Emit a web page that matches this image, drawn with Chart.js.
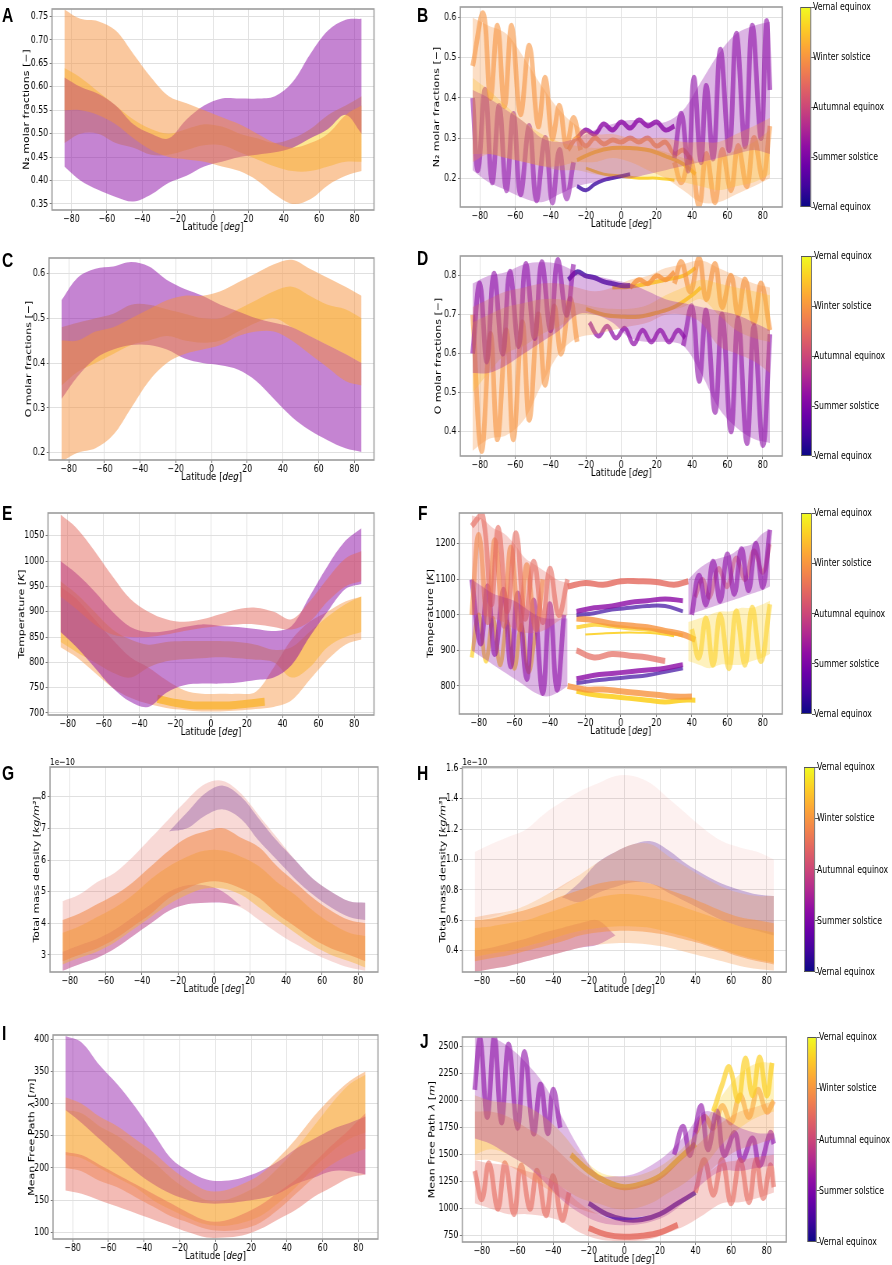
<!DOCTYPE html>
<html><head><meta charset="utf-8">
<script src="https://cdn.jsdelivr.net/npm/chart.js@4.4.1/dist/chart.umd.min.js"></script>
<style>
html,body{margin:0;padding:0;background:#fff;}
body{width:892px;height:1265px;overflow:hidden;position:relative}
#wrap{position:absolute;left:0;top:0;width:1144px;height:1265px;transform:scaleX(0.78);transform-origin:0 0}
.lt{position:absolute;font:bold 20px "Liberation Sans",Arial,sans-serif;line-height:20px;color:#000}
.cb{position:absolute;box-sizing:border-box;border:1px solid #555;background:linear-gradient(to top,#0d0887 0%,#41049d 10%,#6a00a8 20%,#8f0da4 30%,#b12a90 40%,#cc4778 50%,#e16462 60%,#f2844b 70%,#fca636 80%,#fcce25 90%,#f0f921 100%)}
.cbt{position:absolute;height:1px;width:4px;background:#555}
.cbl{position:absolute;font:10px "DejaVu Sans",sans-serif;line-height:12px;white-space:nowrap;color:#000;transform:translateY(-50%)}
</style></head><body><div id="wrap"></div>
<script>
// ---------------- DATA ----------------
const LAT = [-84,-75,-65,-55,-45,-35,-25,-15,-5,5,15,25,35,45,55,65,75,84];
const LAT_TICKS = [-80,-60,-40,-20,0,20,40,60,80];
const SEASONS = ['Vernal equinox','Winter solstice','Autumnal equinox','Summer solstice','Vernal equinox'];

// A: N2 molar fractions (thermosphere, smooth)
const A_YT = [0.35,0.40,0.45,0.50,0.55,0.60,0.65,0.70,0.75];
const A_org_lo = [0.55,0.55,0.54,0.52,0.49,0.465,0.45,0.445,0.44,0.43,0.42,0.40,0.37,0.35,0.36,0.39,0.41,0.42];
const A_org_hi = [0.765,0.745,0.74,0.72,0.67,0.62,0.58,0.565,0.55,0.535,0.52,0.50,0.48,0.47,0.48,0.50,0.54,0.56];
const A_pur_lo = [0.43,0.40,0.38,0.365,0.355,0.37,0.395,0.41,0.43,0.44,0.45,0.455,0.46,0.47,0.49,0.51,0.54,0.50];
const A_pur_hi = [0.62,0.60,0.585,0.56,0.52,0.50,0.49,0.53,0.56,0.575,0.575,0.575,0.58,0.61,0.67,0.72,0.743,0.745];
const A_yel_lo = [0.48,0.50,0.50,0.48,0.47,0.455,0.455,0.465,0.475,0.475,0.46,0.445,0.43,0.42,0.42,0.43,0.44,0.44];
const A_yel_hi = [0.64,0.62,0.59,0.56,0.53,0.51,0.50,0.51,0.52,0.515,0.50,0.49,0.48,0.49,0.51,0.54,0.56,0.58];

// B: N2 molar fractions (oscillating)
const B_YT = [0.2,0.3,0.4,0.5,0.6];
const B_org_lo = [0.24,0.26,0.25,0.24,0.23,0.23,0.24,0.24,0.25,0.24,0.22,0.20,0.17,0.14,0.14,0.16,0.18,0.20];
const B_org_hi = [0.60,0.58,0.56,0.50,0.43,0.37,0.33,0.31,0.31,0.30,0.30,0.30,0.29,0.29,0.29,0.31,0.33,0.35];
const B_pur_lo = [0.22,0.19,0.17,0.15,0.14,0.16,0.18,0.19,0.20,0.20,0.21,0.22,0.23,0.24,0.25,0.26,0.27,0.26];
const B_pur_hi = [0.42,0.40,0.37,0.34,0.30,0.29,0.30,0.32,0.335,0.345,0.34,0.34,0.37,0.44,0.51,0.56,0.58,0.59];
const B_yel_lo = [0.26,0.26,0.25,0.24,0.23,0.22,0.22,0.21,0.205,0.20,0.20,0.20,0.19,0.18,0.17,0.18,0.19,0.21];
const B_yel_hi = [0.45,0.42,0.38,0.34,0.31,0.29,0.28,0.275,0.28,0.28,0.275,0.265,0.25,0.24,0.25,0.27,0.29,0.32];
const B_w1_x = [-84,-78,-74,-70,-66,-62,-57,-52,-47,-43,-39,-35,-31,-27,-23];
const B_w1_y = [0.48,0.61,0.40,0.58,0.38,0.58,0.36,0.53,0.33,0.45,0.30,0.38,0.28,0.35,0.27];
const B_w2_x = [-84,-81,-77,-73,-69,-65,-61,-57,-52,-48,-43,-39,-35,-31,-27];
const B_w2_y = [0.40,0.22,0.42,0.19,0.38,0.17,0.36,0.16,0.33,0.145,0.30,0.14,0.27,0.15,0.24];
const B_w3_x = [30,34,38,41,45,48,52,56,61,65,70,74,79,82,84];
const B_w3_y = [0.25,0.36,0.22,0.45,0.24,0.43,0.25,0.52,0.27,0.56,0.28,0.58,0.30,0.59,0.42];
const B_w4_x = [30,34,39,44,48,53,57,62,66,71,75,80,84];
const B_w4_y = [0.24,0.19,0.25,0.13,0.26,0.14,0.27,0.17,0.28,0.18,0.30,0.20,0.33];
const B_w5_x = [-25,-20,-15,-10,-5,0,5,10,15,20,25,30];
const B_w5_y = [0.30,0.32,0.31,0.335,0.32,0.34,0.325,0.345,0.33,0.34,0.32,0.33];
const B_w6_x = [-25,-15,-5,5,15,25,35,42];
const B_w6_y = [0.245,0.265,0.275,0.275,0.27,0.255,0.235,0.21];
const B_w7_x = [-25,-20,-15,-10,-5,0,5];
const B_w7_y = [0.18,0.17,0.185,0.195,0.2,0.205,0.21];
const B_w8_x = [-20,-10,0,10,20,30];
const B_w8_y = [0.225,0.21,0.205,0.2,0.2,0.195];
const B_w9_x = [-30,-25,-20,-15,-10,-5,0,5,10,15,20,25,30,35,40];
const B_w9_y = [0.27,0.30,0.28,0.30,0.285,0.295,0.29,0.30,0.29,0.30,0.28,0.29,0.26,0.27,0.24];

// C: O molar fractions (smooth)
const C_YT = [0.2,0.3,0.4,0.5,0.6];
const C_org_lo = [0.18,0.20,0.21,0.24,0.30,0.36,0.40,0.42,0.43,0.44,0.46,0.47,0.47,0.45,0.42,0.39,0.36,0.35];
const C_org_hi = [0.45,0.45,0.47,0.48,0.50,0.52,0.54,0.55,0.55,0.56,0.58,0.60,0.62,0.63,0.61,0.59,0.57,0.55];
const C_pur_lo = [0.32,0.37,0.41,0.43,0.44,0.44,0.43,0.41,0.40,0.395,0.385,0.36,0.32,0.28,0.25,0.228,0.21,0.202];
const C_pur_hi = [0.54,0.59,0.61,0.615,0.625,0.615,0.585,0.565,0.55,0.53,0.515,0.50,0.49,0.48,0.46,0.44,0.42,0.40];
const C_yel_lo = [0.35,0.38,0.40,0.42,0.44,0.45,0.46,0.45,0.445,0.45,0.47,0.49,0.50,0.48,0.46,0.44,0.42,0.40];
const C_yel_hi = [0.48,0.49,0.50,0.51,0.53,0.53,0.52,0.51,0.50,0.50,0.52,0.54,0.56,0.57,0.55,0.53,0.52,0.50];

// D: O molar fractions (oscillating)
const D_YT = [0.4,0.5,0.6,0.7,0.8];
const D_pur_lo = [0.55,0.55,0.57,0.60,0.63,0.66,0.70,0.70,0.68,0.64,0.63,0.63,0.62,0.55,0.46,0.41,0.38,0.37];
const D_pur_hi = [0.78,0.80,0.81,0.83,0.835,0.83,0.81,0.80,0.79,0.78,0.76,0.74,0.73,0.72,0.71,0.70,0.68,0.66];
const D_org_lo = [0.35,0.38,0.39,0.43,0.52,0.60,0.64,0.65,0.66,0.67,0.68,0.70,0.70,0.68,0.62,0.60,0.58,0.55];
const D_org_hi = [0.72,0.74,0.76,0.77,0.78,0.78,0.77,0.76,0.77,0.79,0.80,0.82,0.83,0.84,0.82,0.80,0.78,0.77];
const D_yel_lo = [0.50,0.55,0.60,0.62,0.65,0.67,0.70,0.70,0.695,0.695,0.70,0.71,0.72,0.74,0.70,0.66,0.64,0.63];
const D_yel_hi = [0.68,0.70,0.72,0.73,0.74,0.74,0.73,0.72,0.715,0.715,0.725,0.75,0.77,0.79,0.78,0.77,0.76,0.75];
const D_w1_x = [-84,-80,-76,-72,-67,-63,-58,-54,-49,-45,-40,-36,-31,-27];
const D_w1_y = [0.60,0.78,0.58,0.805,0.60,0.81,0.62,0.83,0.64,0.835,0.66,0.84,0.70,0.83];
const D_w2_x = [-84,-79,-74,-70,-65,-61,-56,-52,-47,-43,-38,-34,-29,-25];
const D_w2_y = [0.70,0.35,0.65,0.38,0.66,0.38,0.68,0.43,0.70,0.52,0.72,0.60,0.74,0.63];
const D_w3_x = [35,40,44,48,53,57,62,66,71,75,80,84];
const D_w3_y = [0.62,0.72,0.53,0.71,0.45,0.70,0.40,0.69,0.37,0.67,0.365,0.65];
const D_w4_x = [30,34,39,44,48,53,57,62,66,70,75,79,84];
const D_w4_y = [0.78,0.835,0.76,0.845,0.74,0.83,0.72,0.80,0.70,0.79,0.68,0.78,0.66];
const D_w5_x = [-30,-25,-20,-15,-10,-5,0,5];
const D_w5_y = [0.79,0.81,0.80,0.795,0.785,0.78,0.775,0.775];
const D_w6_x = [-5,5,15,25,35,42];
const D_w6_y = [0.77,0.772,0.78,0.79,0.80,0.82];
const D_w7_x = [-20,-10,0,10,20,30,40,45];
const D_w7_y = [0.715,0.70,0.695,0.695,0.705,0.72,0.75,0.77];
const D_w8_x = [-18,-13,-8,-3,2,7,12,17,22,27,32,36];
const D_w8_y = [0.68,0.645,0.67,0.64,0.665,0.625,0.66,0.63,0.66,0.63,0.66,0.64];
const D_w9_x = [5,10,15,20,25,30];
const D_w9_y = [0.77,0.79,0.78,0.80,0.79,0.81];

// E: Temperature (smooth)
const E_YT = [700,750,800,850,900,950,1000,1050];
const E_red_lo = [930,905,875,855,850,850,855,862,868,872,875,875,870,865,880,920,950,960];
const E_red_hi = [1092,1065,1020,970,925,900,885,880,885,895,905,908,900,885,920,965,1005,1020];
const E_pur_lo = [860,830,790,750,722,712,740,755,758,758,760,765,770,795,850,900,945,955];
const E_pur_hi = [1000,975,940,900,870,860,862,870,875,872,870,866,862,872,930,990,1040,1065];
const E_org_lo = [830,810,780,750,730,718,710,706,703,703,705,708,712,725,765,805,835,845];
const E_org_hi = [950,925,885,845,810,790,765,745,738,738,738,742,790,845,880,900,920,930];
const E_yel_lo = [840,820,800,780,770,790,802,806,808,810,808,805,800,770,790,830,850,860];
const E_yel_hi = [960,935,900,865,845,835,840,842,842,842,840,835,825,830,860,890,915,930];
const E_w1_x = [-30,-20,-10,0,10,20,30];
const E_w1_y = [728,720,715,715,715,718,722];

// F: Temperature (oscillating)
const F_YT = [800,900,1000,1100,1200];
const F_L_x = [-84,-78,-72,-66,-60,-54,-48,-42,-36,-30];
const F_Lred_lo = [1000,1000,990,980,960,950,950,960,980,1000];
const F_Lred_hi = [1280,1270,1245,1230,1200,1160,1140,1120,1100,1090];
const F_Lpur_lo = [900,880,860,840,820,800,780,770,780,800];
const F_Lpur_hi = [1100,1080,1060,1050,1040,1020,1000,990,990,990];
const F_R_x = [38,44,50,56,62,68,74,80,84];
const F_Rpur_lo = [1000,1010,1020,1030,1040,1050,1060,1070,1080];
const F_Rpur_hi = [1100,1130,1150,1160,1170,1190,1200,1230,1240];
const F_Ryel_lo = [870,860,850,860,860,860,870,880,890];
const F_Ryel_hi = [980,990,1000,1010,1010,1020,1020,1030,1040];
const F_w1_x = [-84,-78,-73,-69,-64,-59,-54,-49,-44,-40,-35,-30];
const F_w1_y = [1250,1285,1030,1245,1010,1230,990,1150,980,1130,1000,1100];
const F_w2_x = [-84,-80,-75,-71,-66,-62,-57,-53,-48,-44];
const F_w2_y = [1000,1225,980,1210,970,1190,960,1140,960,1100];
const F_w3_x = [-84,-79,-75,-71,-66,-62,-58,-53,-49,-44,-40,-36,-32];
const F_w3_y = [1100,920,1080,890,1070,855,1060,820,1040,780,1030,790,1000];
const F_w4_x = [-84,-80,-76,-72,-68,-64,-60,-56,-52,-48];
const F_w4_y = [880,1000,870,990,860,980,850,970,840,950];
const F_w5_x = [40,44,48,52,56,60,64,68,72,76,80,84];
const F_w5_y = [1000,1110,1030,1150,1040,1170,1060,1185,1070,1200,1080,1240];
const F_w6_x = [40,44,48,52,56,61,65,70,74,79,84];
const F_w6_y = [960,880,990,860,1000,850,1010,860,1020,870,1030];
const F_w7_x = [42,46,50,55,60,65,70,75,80,84];
const F_w7_y = [1050,1100,1050,1130,1080,1160,1100,1180,1120,1200];
const F_c1_x = [-30,-20,-10,0,10,20,30,38];
const F_c1_y = [1080,1090,1085,1095,1095,1093,1085,1095];
const F_c2_x = [-25,-15,-5,5,15,25,35];
const F_c2_y = [1010,1020,1025,1035,1040,1045,1040];
const F_c3_y = [1000,1005,1015,1020,1025,1025,1010];
const F_c4_x = [-25,-15,-5,5,15,25,35,42];
const F_c4_y = [990,985,975,970,965,955,945,930];
const F_c5_x = [-20,-10,0,10,20,30];
const F_c5_y = [945,948,950,950,948,940];
const F_c6_y = [965,972,968,962,958,952,942];
const F_c7_x = [-25,-15,-5,5,15,25];
const F_c7_y = [900,880,890,885,880,870];
const F_c8_y = [820,830,835,840,845,850,860];
const F_c9_y = [808,815,820,825,830,840,850];
const F_c10_x = [-30,-20,-10,0,10,20,30,40];
const F_c10_y = [800,790,790,785,780,775,770,770];
const F_c11_y = [785,775,770,765,760,755,760,760];

// G: Total mass density, units of 1e-10 kg/m^3 (smooth)
const G_YT = [3,4,5,6,7,8];
const G_all_lo = [2.5,2.7,2.9,3.2,3.6,4.0,4.4,4.6,4.65,4.65,4.5,4.1,3.7,3.35,3.05,2.8,2.6,2.5];
const G_all_hi = [4.7,4.9,5.3,5.6,6.1,6.7,7.3,7.9,8.4,8.5,8.1,7.4,6.7,6.0,5.4,5.0,4.7,4.65];
const G_org_lo = [2.8,3.0,3.2,3.5,3.9,4.3,4.8,5.1,5.3,5.3,5.1,4.8,4.3,3.9,3.5,3.2,3.0,2.8];
const G_org_hi = [4.1,4.3,4.6,4.9,5.3,5.8,6.3,6.7,6.9,7.0,6.7,6.4,5.8,5.3,4.8,4.4,4.1,4.0];
const G_yel_lo = [2.7,2.9,3.1,3.4,3.8,4.2,4.6,4.9,5.1,5.1,4.9,4.5,4.1,3.7,3.3,3.0,2.8,2.6];
const G_yel_hi = [3.7,3.9,4.2,4.5,4.9,5.4,5.8,6.1,6.3,6.3,6.1,5.8,5.3,4.9,4.4,4.0,3.7,3.6];
const G_blu_x = [-25,-15,-5,5,15,25,35,45,55,65,75,84];
const G_blu_lo = [6.9,7.0,7.4,7.6,7.3,6.6,6.0,5.4,4.9,4.5,4.2,4.1];
const G_blu_hi = [6.9,7.5,8.1,8.35,8.0,7.3,6.6,6.0,5.4,5.0,4.7,4.65];
const G_pur_x = [-84,-75,-65,-55,-45,-35,-25,-15,-5,5,15];
const G_pur_lo = [2.5,2.7,2.9,3.2,3.6,4.0,4.4,4.6,4.65,4.65,4.55];
const G_pur_hi = [3.1,3.3,3.5,3.8,4.2,4.6,5.0,5.2,5.2,5.0,4.55];

// H: Total mass density, units of 1e-10 kg/m^3 (scattered)
const H_YT = [0.4,0.6,0.8,1.0,1.2,1.4,1.6];
const H_red_lo = [0.6,0.62,0.66,0.7,0.76,0.82,0.9,0.98,1.05,1.1,1.1,1.02,0.95,0.88,0.82,0.78,0.76,0.76];
const H_red_hi = [1.05,1.1,1.15,1.2,1.3,1.38,1.45,1.5,1.55,1.55,1.5,1.4,1.3,1.2,1.12,1.08,1.05,1.0];
const H_all_lo = [0.26,0.28,0.3,0.33,0.36,0.39,0.42,0.44,0.45,0.45,0.44,0.42,0.39,0.36,0.33,0.3,0.28,0.27];
const H_all_hi = [0.62,0.64,0.66,0.7,0.76,0.83,0.9,0.98,1.05,1.1,1.1,1.02,0.95,0.88,0.82,0.78,0.76,0.76];
const H_org_lo = [0.33,0.35,0.37,0.4,0.43,0.46,0.5,0.52,0.53,0.53,0.52,0.5,0.47,0.44,0.4,0.36,0.33,0.31];
const H_org_hi = [0.6,0.61,0.64,0.67,0.71,0.76,0.8,0.84,0.86,0.86,0.84,0.8,0.76,0.71,0.66,0.62,0.6,0.58];
const H_yel_lo = [0.36,0.38,0.4,0.43,0.46,0.5,0.53,0.55,0.56,0.56,0.55,0.52,0.49,0.45,0.41,0.37,0.34,0.32];
const H_yel_hi = [0.55,0.56,0.58,0.6,0.64,0.68,0.72,0.75,0.77,0.77,0.75,0.72,0.68,0.64,0.6,0.56,0.54,0.52];
const H_blu_x = [-35,-25,-15,-5,5,15,25,35,45,55,65,75,84];
const H_blu_lo = [0.75,0.72,0.78,0.82,0.85,0.84,0.78,0.72,0.66,0.6,0.56,0.53,0.5];
const H_blu_hi = [0.75,0.85,0.98,1.05,1.1,1.12,1.06,0.97,0.9,0.84,0.8,0.77,0.76];
const H_pur_x = [-84,-75,-65,-55,-45,-35,-25,-15,-5];
const H_pur_lo = [0.26,0.28,0.3,0.33,0.36,0.39,0.42,0.44,0.5];
const H_pur_hi = [0.4,0.42,0.45,0.48,0.52,0.55,0.58,0.6,0.5];

// I: Mean free path (smooth)
const I_YT = [100,150,200,250,300,350,400];
const I_red_lo = [165,160,150,140,130,120,110,100,92,92,95,105,120,135,155,170,185,190];
const I_red_hi = [225,220,205,190,175,160,145,130,118,118,128,142,162,182,208,235,260,285];
const I_org_lo = [200,195,180,170,155,140,125,115,105,102,105,115,135,160,185,205,220,230];
const I_org_hi = [310,300,280,265,245,225,200,180,165,165,175,190,215,245,280,310,335,350];
const I_pur_lo = [290,270,245,220,195,175,160,150,145,145,148,152,160,175,185,195,195,190];
const I_pur_hi = [405,395,360,330,295,255,215,195,182,180,185,195,210,230,245,260,270,280];
const I_yel_lo = [220,215,200,185,170,150,135,122,112,110,115,125,145,170,200,225,245,255];
const I_yel_hi = [290,285,265,250,230,210,185,165,150,150,160,175,200,230,265,300,330,345];

// J: Mean free path (oscillating)
const J_YT = [750,1000,1250,1500,1750,2000,2250,2500];
const J_pink_lo = [1050,1000,950,950,930,880,780,720,700,700,720,780,850,950,1050,1060,1100,1150];
const J_pink_hi = [1450,1420,1400,1350,1300,1200,1050,950,900,900,950,1050,1150,1300,1420,1450,1480,1500];
const J_pur_lo = [1650,1600,1500,1400,1250,1080,960,880,850,850,880,950,1080,1250,1350,1350,1380,1400];
const J_pur_hi = [2590,2590,2500,2350,2150,1850,1550,1320,1300,1320,1400,1520,1700,1900,1850,1750,1700,1700];
const J_org_lo = [1450,1450,1400,1300,1200,1100,1000,950,920,920,950,1050,1150,1300,1450,1550,1600,1650];
const J_org_hi = [1900,1900,1850,1750,1650,1500,1350,1250,1200,1200,1250,1350,1500,1650,1800,1900,1950,2000];
const J_yel_lo = [1500,1550,1500,1400,1300,1200,1100,1050,1000,1000,1050,1150,1250,1400,1600,1750,1850,1900];
const J_yel_hi = [2050,2000,1980,1950,1850,1700,1500,1350,1300,1300,1350,1450,1600,1800,2050,2250,2350,2350];
const J_w1_x = [-84,-81,-77,-73,-69,-65,-60,-56,-51,-47,-43,-40,-36];
const J_w1_y = [2100,2580,1850,2590,1800,2520,1750,2450,1700,2150,1700,2100,1750];
const J_w2_x = [-84,-80,-76,-71,-67,-62,-58,-53,-49,-44,-40,-35,-31];
const J_w2_y = [1350,1090,1420,1000,1420,950,1400,1000,1350,940,1300,900,1150];
const J_w3_x = [50,55,59,64,68,72,76,80,83];
const J_w3_y = [1900,2150,2310,2000,2390,2050,2400,2050,2350];
const J_w4_x = [40,45,50,55,60,65,70,74,78,82,84];
const J_w4_y = [1150,1450,1130,1450,1050,1450,1060,1450,1100,1400,1200];
const J_w5_x = [28,33,37,43,47,52,56,62,66,72,76,82,84];
const J_w5_y = [1500,1760,1500,1950,1550,1900,1500,1700,1450,1650,1400,1700,1600];
const J_w6_x = [-30,-20,-10,0,10,20,30,40];
const J_w6_y = [1500,1350,1250,1200,1230,1300,1450,1600];
const J_w7_x = [-20,-10,0,10,20,30,40];
const J_w7_y = [1050,950,900,900,950,1050,1150];
const J_w8_x = [-20,-10,0,10,20,30];
const J_w8_y = [820,760,740,750,780,850];
const J_w9_x = [40,45,50,55,60,65,70,75,80,84];
const J_w9_y = [1700,1850,1750,1950,1800,2050,1850,2100,1900,2000];

// ---------------- STYLE / LAYOUT ----------------
const S = 0.78;
const PUR=[139,10,165], BLU=[60,10,160], RED=[228,104,92], ORG=[246,146,62], YEL=[252,208,38];
function rgba(c,a){return `rgba(${c[0]},${c[1]},${c[2]},${a})`;}
function band(xs,lo,hi,col,a){
  return [
    {data:xs.map((x,i)=>({x,y:lo[i]})),borderColor:'rgba(0,0,0,0)',borderWidth:1,pointRadius:0,fill:false,tension:0.35},
    {data:xs.map((x,i)=>({x,y:hi[i]})),borderColor:'rgba(0,0,0,0)',borderWidth:1,pointRadius:0,fill:'-1',backgroundColor:rgba(col,a),tension:0.35}
  ];
}
function wave(xs,ys,col,a,w){
  return [{data:xs.map((x,i)=>({x,y:ys[i]})),borderColor:rgba(col,a),borderWidth:w,pointRadius:0,fill:false,tension:0.4}];
}
const T_N2=[['N₂ molar fractions [−]',0]];
const T_O=[['O molar fractions [−]',0]];
const T_T=[['Temperature [',0],['K',1],[']',0]];
const T_RHO=[['Total mass density [',0],['kg/m³',1],[']',0]];
const T_MFP=[['Mean Free Path ',0],['λ',1],[' [',0],['m',1],[']',0]];
const T_LAT=[['Latitude [',0],['deg',1],[']',0]];

const PANELS = [
 {id:'A',rect:[52,9,374,210],cl:0,ytx:27,y:[0.337,0.766],yt:A_YT,dec:2,title:T_N2,letter:[2,8],
  ds:[band(LAT,A_org_lo,A_org_hi,ORG,.5),band(LAT,A_pur_lo,A_pur_hi,PUR,.5),band(LAT,A_yel_lo,A_yel_hi,YEL,.5)]},
 {id:'B',rect:[460,7,782,207],cl:410,ytx:437,y:[0.128,0.627],yt:B_YT,dec:1,title:T_N2,letter:[417,8],cb:[800,811],
  ds:[band(LAT,B_org_lo,B_org_hi,ORG,.3),band(LAT,B_pur_lo,B_pur_hi,PUR,.3),band(LAT,B_yel_lo,B_yel_hi,YEL,.3),
      wave(B_w1_x,B_w1_y,ORG,.6,6),wave(B_w2_x,B_w2_y,PUR,.55,6),wave(B_w3_x,B_w3_y,PUR,.6,6),wave(B_w4_x,B_w4_y,ORG,.6,6),
      wave(B_w9_x,B_w9_y,ORG,.7,5),wave(B_w5_x,B_w5_y,PUR,.8,5),wave(B_w6_x,B_w6_y,YEL,.9,4),wave(B_w7_x,B_w7_y,BLU,.8,4),wave(B_w8_x,B_w8_y,YEL,.9,3)]},
 {id:'C',rect:[49,258,374,460],cl:0,ytx:29,y:[0.184,0.634],yt:C_YT,dec:1,title:T_O,letter:[2,253],
  ds:[band(LAT,C_org_lo,C_org_hi,ORG,.5),band(LAT,C_pur_lo,C_pur_hi,PUR,.5),band(LAT,C_yel_lo,C_yel_hi,YEL,.5)]},
 {id:'D',rect:[460,256,782,456],cl:410,ytx:438,y:[0.3365,0.851],yt:D_YT,dec:1,title:T_O,letter:[417,251],cb:[801,812],
  ds:[band(LAT,D_pur_lo,D_pur_hi,PUR,.3),band(LAT,D_org_lo,D_org_hi,ORG,.3),band(LAT,D_yel_lo,D_yel_hi,YEL,.3),
      wave(D_w1_x,D_w1_y,PUR,.6,6),wave(D_w2_x,D_w2_y,ORG,.6,6),wave(D_w3_x,D_w3_y,PUR,.6,6),wave(D_w4_x,D_w4_y,ORG,.65,6),
      wave(D_w5_x,D_w5_y,BLU,.8,5),wave(D_w9_x,D_w9_y,ORG,.8,5),wave(D_w6_x,D_w6_y,YEL,.9,4),wave(D_w7_x,D_w7_y,YEL,.9,4),wave(D_w8_x,D_w8_y,PUR,.7,5)]},
 {id:'E',rect:[48,513,374,715],cl:0,ytx:22,y:[696,1095],yt:E_YT,dec:0,title:T_T,letter:[2,506],
  ds:[band(LAT,E_red_lo,E_red_hi,RED,.5),band(LAT,E_pur_lo,E_pur_hi,PUR,.5),band(LAT,E_org_lo,E_org_hi,ORG,.45),band(LAT,E_yel_lo,E_yel_hi,YEL,.5),
      wave(E_w1_x,E_w1_y,YEL,.8,8)]},
 {id:'F',rect:[459,513,782,714],cl:410,ytx:430,y:[721,1287],yt:F_YT,dec:0,title:T_T,letter:[418,506],cb:[801,812],
  ds:[band(F_L_x,F_Lred_lo,F_Lred_hi,RED,.3),band(F_L_x,F_Lpur_lo,F_Lpur_hi,PUR,.3),band(F_R_x,F_Rpur_lo,F_Rpur_hi,PUR,.3),band(F_R_x,F_Ryel_lo,F_Ryel_hi,YEL,.3),
      wave(F_w1_x,F_w1_y,RED,.6,6),wave(F_w2_x,F_w2_y,ORG,.6,6),wave(F_w3_x,F_w3_y,PUR,.6,6),wave(F_w4_x,F_w4_y,YEL,.7,5),
      wave(F_w5_x,F_w5_y,PUR,.6,6),wave(F_w6_x,F_w6_y,YEL,.6,6),wave(F_w7_x,F_w7_y,RED,.5,5),
      wave(F_c1_x,F_c1_y,RED,.8,6),wave(F_c2_x,F_c2_y,PUR,.8,5),wave(F_c2_x,F_c3_y,BLU,.7,4),wave(F_c4_x,F_c4_y,ORG,.8,6),
      wave(F_c2_x,F_c6_y,YEL,.8,4),wave(F_c5_x,F_c5_y,YEL,.9,2),wave(F_c7_x,F_c7_y,RED,.7,6),wave(F_c2_x,F_c8_y,PUR,.8,5),
      wave(F_c2_x,F_c9_y,BLU,.7,4),wave(F_c10_x,F_c10_y,ORG,.8,6),wave(F_c4_x,F_c11_y,YEL,.9,5)]},
 {id:'G',rect:[50,767,378,972],cl:0,ytx:37,y:[2.46,8.94],yt:G_YT,dec:0,title:T_RHO,letter:[2,766],off:'1e−10',
  ds:[band(LAT,G_all_lo,G_all_hi,RED,.25),band(LAT,G_org_lo,G_org_hi,ORG,.55),band(LAT,G_yel_lo,G_yel_hi,YEL,.45),
      band(G_blu_x,G_blu_lo,G_blu_hi,BLU,.3),band(G_pur_x,G_pur_lo,G_pur_hi,PUR,.35)]},
 {id:'H',rect:[462,767,786,972],cl:410,ytx:443,y:[0.26,1.609],yt:H_YT,dec:1,title:T_RHO,letter:[417,766],off:'1e−10',cb:[804,815],
  ds:[band(LAT,H_red_lo,H_red_hi,RED,.09),band(LAT,H_all_lo,H_all_hi,ORG,.3),band(LAT,H_org_lo,H_org_hi,ORG,.5),band(LAT,H_yel_lo,H_yel_hi,YEL,.45),
      band(H_blu_x,H_blu_lo,H_blu_hi,BLU,.28),band(H_pur_x,H_pur_lo,H_pur_hi,PUR,.35)]},
 {id:'I',rect:[53,1035,378,1239],cl:0,ytx:32,y:[89.6,406.7],yt:I_YT,dec:0,title:T_MFP,letter:[2,1026],
  ds:[band(LAT,I_red_lo,I_red_hi,RED,.45),band(LAT,I_org_lo,I_org_hi,ORG,.45),band(LAT,I_pur_lo,I_pur_hi,PUR,.45),band(LAT,I_yel_lo,I_yel_hi,YEL,.4)]},
 {id:'J',rect:[462,1037,786,1242],cl:410,ytx:432,y:[692,2590],yt:J_YT,dec:0,title:T_MFP,letter:[420,1034],cb:[807,817],
  ds:[band(LAT,J_pink_lo,J_pink_hi,RED,.3),band(LAT,J_pur_lo,J_pur_hi,PUR,.28),band(LAT,J_org_lo,J_org_hi,ORG,.3),band(LAT,J_yel_lo,J_yel_hi,YEL,.3),
      wave(J_w1_x,J_w1_y,PUR,.6,6),wave(J_w2_x,J_w2_y,RED,.6,6),wave(J_w3_x,J_w3_y,YEL,.7,6),wave(J_w4_x,J_w4_y,RED,.6,6),
      wave(J_w5_x,J_w5_y,PUR,.6,6),wave(J_w9_x,J_w9_y,ORG,.6,6),wave(J_w6_x,J_w6_y,YEL,.9,6),wave(J_w7_x,J_w7_y,BLU,.8,5),wave(J_w8_x,J_w8_y,RED,.8,6)]},
];

// ---------------- RENDER ----------------
const wrap=document.getElementById('wrap');
function fmt(v,dec){return (v<0?'−':'')+Math.abs(v).toFixed(dec);}
function drawRich(ctx,parts,cx,cy,rot,size){
  ctx.save();ctx.translate(cx,cy);ctx.rotate(rot);
  const fonts=parts.map(p=>(p[1]?'italic ':'')+size+'px "DejaVu Sans"');
  let w=0;parts.forEach((p,i)=>{ctx.font=fonts[i];w+=ctx.measureText(p[0]).width;});
  let x=-w/2;ctx.textBaseline='middle';ctx.textAlign='left';ctx.fillStyle='#000';
  parts.forEach((p,i)=>{ctx.font=fonts[i];ctx.fillText(p[0],x,0);x+=ctx.measureText(p[0]).width;});
  ctx.restore();
}
const deco={id:'deco',afterDraw(chart){
  const o=chart.options.plugins.deco,ctx=chart.ctx,a=chart.chartArea;
  ctx.save();ctx.strokeStyle='#9c9c9c';ctx.lineWidth=1.6;
  ctx.strokeRect(a.left,a.top,a.right-a.left,a.bottom-a.top);
  drawRich(ctx,T_LAT,(a.left+a.right)/2,a.bottom+17,0,11);
  drawRich(ctx,o.title,o.tx,(a.top+a.bottom)/2,-Math.PI/2,11);
  if(o.off){ctx.font='9.5px "DejaVu Sans"';ctx.fillStyle='#000';ctx.textAlign='left';ctx.textBaseline='alphabetic';ctx.fillText(o.off,a.left,a.top-2);}
  ctx.restore();
}};
const TF={family:'DejaVu Sans',size:10};
PANELS.forEach(p=>{
  const [l,t,r,b]=p.rect,PT=10,XH=28,PR=6;
  const YW=(l-p.cl)/S,PW=(r-l)/S;
  const W=Math.ceil(YW+PW+PR),H=PT+(b-t)+XH;
  const cv=document.createElement('canvas');
  cv.width=W;cv.height=H;
  cv.style.cssText=`position:absolute;left:${p.cl/S}px;top:${t-PT}px;width:${W}px;height:${H}px`;
  wrap.appendChild(cv);
  const datasets=[].concat(...p.ds.map(d=>d));
  new Chart(cv.getContext('2d'),{type:'line',data:{datasets},options:{
    responsive:false,animation:false,events:[],
    layout:{padding:{left:0,top:PT,right:W-YW-PW,bottom:0}},
    plugins:{legend:{display:false},tooltip:{enabled:false},deco:{title:p.title,tx:(p.ytx-p.cl)/S,off:p.off}},
    scales:{
      x:{type:'linear',min:-91,max:91,afterBuildTicks:s=>{s.ticks=LAT_TICKS.map(v=>({value:v}));},afterFit:s=>{s.height=XH;},
         ticks:{autoSkip:false,maxRotation:0,font:TF,color:'#000',padding:0,callback:v=>fmt(v,0)},
         grid:{color:'#e0e0e0',tickColor:'#777',tickLength:3},border:{display:false}},
      y:{type:'linear',min:p.y[0],max:p.y[1],afterBuildTicks:s=>{s.ticks=p.yt.map(v=>({value:v}));},afterFit:s=>{s.width=YW;},
         ticks:{autoSkip:false,font:TF,color:'#000',padding:2,callback:v=>fmt(v,p.dec)},
         grid:{color:'#e0e0e0',tickColor:'#777',tickLength:3},border:{display:false}}
    }}, plugins:[deco]});
  const L=document.createElement('div');L.className='lt';L.textContent=p.id;
  L.style.left=(p.letter[0]/S)+'px';L.style.top=(p.letter[1]-2.6)+'px';wrap.appendChild(L);
  if(p.cb){
    const cb=document.createElement('div');cb.className='cb';
    cb.style.left=(p.cb[0]/S)+'px';cb.style.width=((p.cb[1]-p.cb[0])/S)+'px';cb.style.top=t+'px';cb.style.height=(b-t)+'px';
    wrap.appendChild(cb);
    SEASONS.forEach((s,i)=>{
      const y=t+i*(b-t)/4;
      const tk=document.createElement('div');tk.className='cbt';tk.style.left=(p.cb[1]/S)+'px';tk.style.top=(y-0.5)+'px';wrap.appendChild(tk);
      const lb=document.createElement('div');lb.className='cbl';lb.textContent=s;
      lb.style.left=((p.cb[1]+2)/S)+'px';lb.style.top=y+'px';wrap.appendChild(lb);
    });
  }
});
</script></body></html>
